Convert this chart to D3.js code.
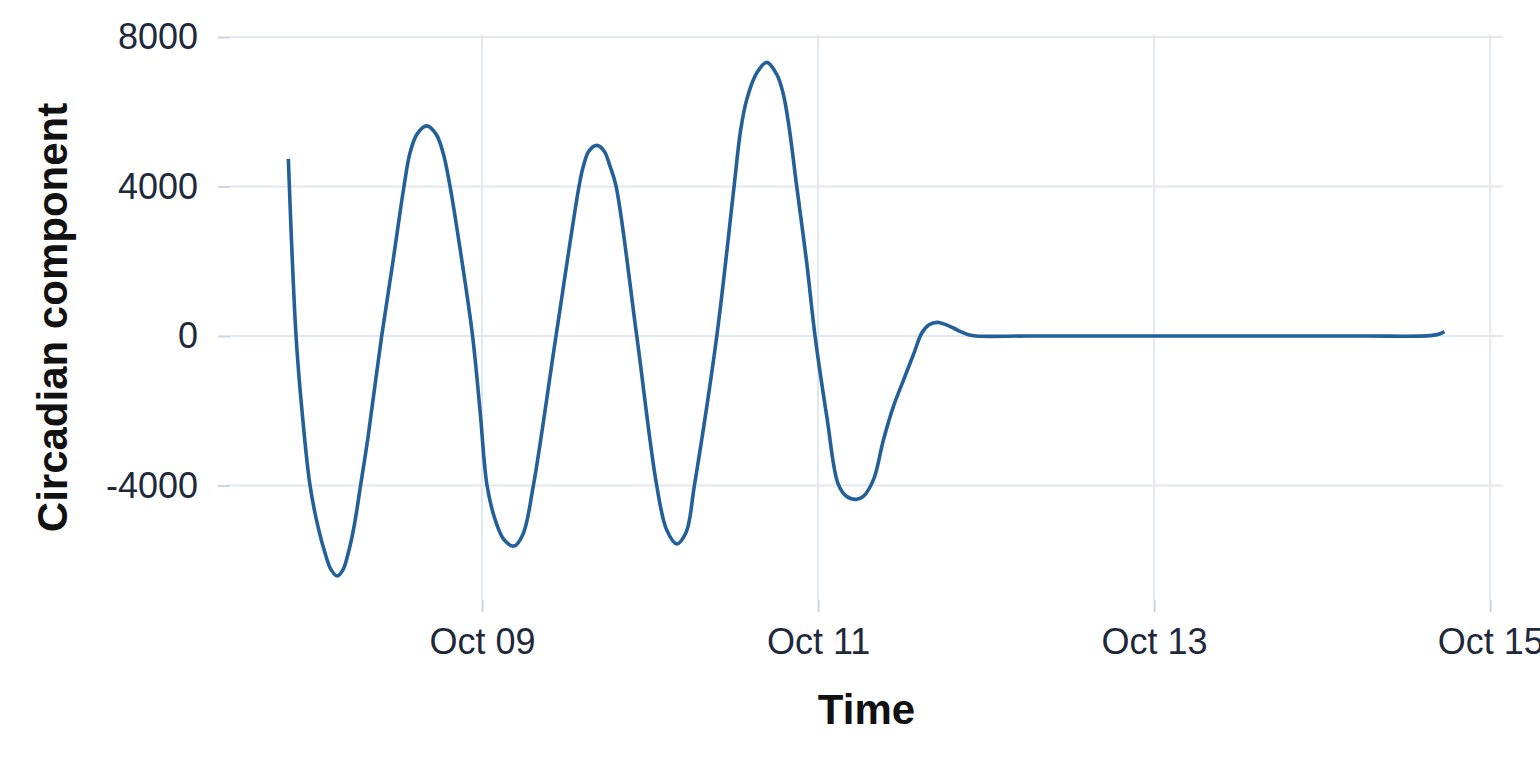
<!DOCTYPE html>
<html>
<head>
<meta charset="utf-8">
<script src="https://cdn.jsdelivr.net/npm/d3@7"></script>
<style>
  html, body { margin: 0; padding: 0; background: #ffffff; }
  svg { display: block; }
</style>
</head>
<body>
<svg id="chart" width="1540" height="770"></svg>
<script>
// ---- data ----
const times = [
  "2023-10-07T20:20","2023-10-07T21:26","2023-10-07T22:17","2023-10-07T23:26","2023-10-08T00:34",
  "2023-10-08T01:34","2023-10-08T02:26","2023-10-08T03:20","2023-10-08T04:09","2023-10-08T04:54",
  "2023-10-08T05:43","2023-10-08T06:39","2023-10-08T07:43","2023-10-08T09:40","2023-10-08T11:17",
  "2023-10-08T12:51","2023-10-08T13:43","2023-10-08T14:43","2023-10-08T16:06","2023-10-08T17:26",
  "2023-10-08T18:26","2023-10-08T19:26","2023-10-08T21:06","2023-10-08T22:39","2023-10-08T23:43",
  "2023-10-09T00:43","2023-10-09T01:51","2023-10-09T03:09","2023-10-09T04:34","2023-10-09T05:51",
  "2023-10-09T07:20","2023-10-09T10:34","2023-10-09T13:51","2023-10-09T14:28","2023-10-09T15:17",
  "2023-10-09T16:23","2023-10-09T17:26","2023-10-09T18:17","2023-10-09T19:09","2023-10-09T22:06",
  "2023-10-10T00:57","2023-10-10T02:23","2023-10-10T03:49","2023-10-10T05:09","2023-10-10T06:20",
  "2023-10-10T09:32","2023-10-10T12:00","2023-10-10T12:56","2023-10-10T13:49","2023-10-10T15:15",
  "2023-10-10T16:40","2023-10-10T18:06","2023-10-10T19:00","2023-10-10T19:51","2023-10-10T20:57",
  "2023-10-10T22:23","2023-10-10T23:34","2023-10-11T01:17","2023-10-11T02:51","2023-10-11T04:00",
  "2023-10-11T05:26","2023-10-11T06:28","2023-10-11T07:54","2023-10-11T09:20","2023-10-11T10:45",
  "2023-10-11T11:57","2023-10-11T13:37","2023-10-11T14:49","2023-10-11T15:51","2023-10-11T17:03",
  "2023-10-11T18:09","2023-10-11T19:20","2023-10-11T20:26","2023-10-11T21:28","2023-10-11T22:34",
  "2023-10-12T06:00","2023-10-12T18:00","2023-10-13T06:00","2023-10-13T18:00","2023-10-14T06:00",
  "2023-10-14T15:26","2023-10-14T16:51","2023-10-14T17:28"
];
const values = [
  4740, 0, -2000, -4000, -5100,
  -5800, -6250, -6420, -6250, -5800,
  -5100, -4000, -2700, 0, 2000,
  4000, 4900, 5400, 5620, 5400,
  4900, 4000, 2040, 0, -2000,
  -4000, -4900, -5450, -5620, -5300,
  -4000, 0, 4000, 4540, 4950,
  5100, 4950, 4540, 4000, 0,
  -4000, -5190, -5560, -5250, -4000,
  0, 4000, 5500, 6330, 7040,
  7320, 7000, 6500, 5600, 4000,
  1955, 0, -2200, -3950, -4280,
  -4370, -4290, -3850, -2780, -1890,
  -1300, -500, 80, 300, 364,
  310, 214, 110, 35, 0,
  0, 0, 0, 0, 0,
  10, 60, 120
];
const yTicks = [-4000, 0, 4000, 8000];
const xTickDates = ["2023-10-09", "2023-10-11", "2023-10-13", "2023-10-15"];
const xDomainStrings = ["2023-10-07T12:00", "2023-10-15T01:50"];
const xTitle = "Time";
const yTitle = "Circadian component";

// ---- layout ----
const svg = d3.select("#chart");
const mLeft = 230, mRight = 1503, mTop = 35, mBottom = 600;
const parseT = d3.timeParse("%Y-%m-%dT%H:%M");
const parseD = d3.timeParse("%Y-%m-%d");
const data = times.map((t, i) => ({ t: parseT(t), v: values[i] }));

const x = d3.scaleTime()
  .domain(xDomainStrings.map(parseT))
  .range([mLeft, mRight]);
const vMin = d3.min(values), vMax = d3.max(values);
const y = d3.scaleLinear()
  .domain([vMin * 1.1, vMax * 1.1])
  .range([mBottom, mTop]);

const gridColor = "#e2e8f0";
const tickColor = "#cbd5e1";
const labelColor = "#1e293b";
const font = "'Liberation Sans', Arial, Helvetica, sans-serif";

// grid lines
const g = svg.append("g");
g.selectAll("line.hgrid").data(yTicks).enter().append("line")
  .attr("class", "hgrid")
  .attr("x1", mLeft).attr("x2", mRight)
  .attr("y1", d => y(d)).attr("y2", d => y(d))
  .attr("stroke", gridColor).attr("stroke-width", 2);
const xTicks = xTickDates.map(parseD);
g.selectAll("line.vgrid").data(xTicks).enter().append("line")
  .attr("class", "vgrid")
  .attr("x1", d => x(d)).attr("x2", d => x(d))
  .attr("y1", mTop).attr("y2", mBottom)
  .attr("stroke", gridColor).attr("stroke-width", 2);

// y axis
const yAxis = d3.axisLeft(y).tickValues(yTicks).tickSize(12).tickPadding(20)
  .tickFormat(d => String(d));
const ya = svg.append("g").attr("transform", `translate(${mLeft},0)`).call(yAxis);
ya.select(".domain").remove();
ya.selectAll(".tick line").attr("stroke", tickColor).attr("stroke-width", 2);
ya.selectAll(".tick text").attr("fill", labelColor)
  .style("font-family", font).style("font-size", "36px");

// x axis
const xAxis = d3.axisBottom(x).tickValues(xTicks).tickSize(12).tickPadding(16)
  .tickFormat(d3.timeFormat("%b %d"));
const xa = svg.append("g").attr("transform", `translate(0,${mBottom})`).call(xAxis);
xa.select(".domain").remove();
xa.selectAll(".tick line").attr("stroke", tickColor).attr("stroke-width", 2);
xa.selectAll(".tick text").attr("fill", labelColor)
  .style("font-family", font).style("font-size", "36px");

// line
const line = d3.line()
  .x(d => x(d.t)).y(d => y(d.v))
  .curve(d3.curveCatmullRom.alpha(0.5));
svg.append("path").datum(data)
  .attr("d", line)
  .attr("fill", "none")
  .attr("stroke", "#23609a")
  .attr("stroke-width", 3.6)
  .attr("stroke-linejoin", "round");

// titles
svg.append("text")
  .attr("x", (mLeft + mRight) / 2).attr("y", 724)
  .attr("text-anchor", "middle")
  .attr("fill", "#111111")
  .style("font-family", font).style("font-size", "42px").style("font-weight", "bold")
  .text(xTitle);
svg.append("text")
  .attr("transform", `translate(67,${(mTop + mBottom) / 2}) rotate(-90)`)
  .attr("text-anchor", "middle")
  .attr("fill", "#111111")
  .style("font-family", font).style("font-size", "42px").style("font-weight", "bold")
  .text(yTitle);
</script>
</body>
</html>
